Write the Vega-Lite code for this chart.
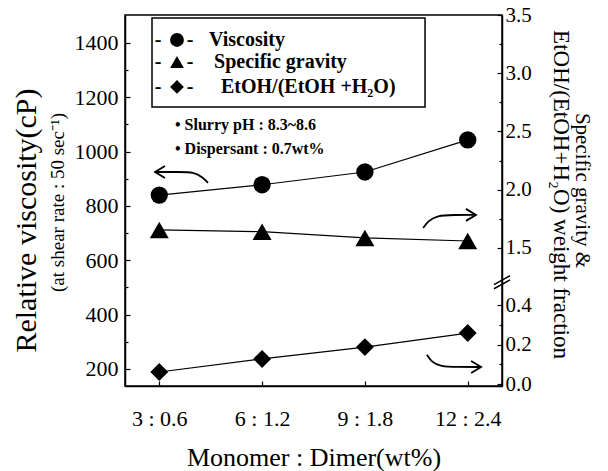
{
  "$schema": "https://vega.github.io/schema/vega-lite/v6.json",
  "width": 377,
  "height": 371,
  "autosize": "none",
  "padding": {"left": 125, "top": 15, "right": 106, "bottom": 85},
  "config": {
    "view": {"stroke": "black", "strokeWidth": 1.5},
    "font": "Liberation Serif",
    "axis": {
      "domainColor": "black", "tickColor": "black", "labelColor": "black", "titleColor": "black",
      "labelFont": "Liberation Serif", "titleFont": "Liberation Serif, Times New Roman, serif", "titleFontWeight": "normal",
      "grid": false, "domainWidth": 1.5, "tickWidth": 1.2
    },
    "style": {"guide-title": {"font": "Liberation Serif, Times New Roman, serif"}},
    "text": {"font": "Liberation Serif"}
  },
  "datasets": {
    "main": [
      {"x": 3, "visc": 840, "sg": 1.655, "etoh": 0.061},
      {"x": 6, "visc": 878, "sg": 1.64, "etoh": 0.127},
      {"x": 9, "visc": 925, "sg": 1.586, "etoh": 0.187},
      {"x": 12, "visc": 1043, "sg": 1.56, "etoh": 0.258}
    ],
    "legendBox": [{"x": 2.788, "x2": 10.754, "y": 1164, "y2": 1492}],
    "legendSymbols": [
      {"x": 3.517, "y": 1411, "series": "Viscosity"},
      {"x": 3.517, "y": 1330, "series": "Specific gravity"},
      {"x": 3.517, "y": 1238, "series": "EtOH"}
    ],
    "legendDashes": [
      {"x": 2.963, "y": 1411, "text": "-"}, {"x": 3.897, "y": 1411, "text": "-"},
      {"x": 2.963, "y": 1330, "text": "-"}, {"x": 3.897, "y": 1330, "text": "-"},
      {"x": 2.963, "y": 1238, "text": "-"}, {"x": 3.897, "y": 1238, "text": "-"}
    ],
    "legendLabels": [
      {"x": 4.45, "y": 1411, "text": "Viscosity"},
      {"x": 4.6, "y": 1330, "text": "Specific gravity"},
      {"x": 4.8, "y": 1238, "text": "EtOH/(EtOH +H₂O)"}
    ],
    "notes": [
      {"x": 3.459, "y": 1098, "text": "•  Slurry pH : 8.3~8.6"},
      {"x": 3.459, "y": 1010, "text": "•  Dispersant : 0.7wt%"}
    ],
    "arrows": [
      {"id": 1, "o": 1, "x": 4.42, "y": 885}, {"id": 1, "o": 2, "x": 4.28, "y": 905}, {"id": 1, "o": 3, "x": 4.0, "y": 925}, {"id": 1, "o": 4, "x": 3.6, "y": 925}, {"id": 1, "o": 5, "x": 2.9, "y": 925},
      {"id": 2, "o": 1, "x": 10.7, "y": 719}, {"id": 2, "o": 2, "x": 10.85, "y": 745}, {"id": 2, "o": 3, "x": 11.1, "y": 765}, {"id": 2, "o": 4, "x": 11.6, "y": 767}, {"id": 2, "o": 5, "x": 12.2, "y": 767},
      {"id": 3, "o": 1, "x": 10.81, "y": 252}, {"id": 3, "o": 2, "x": 10.95, "y": 225}, {"id": 3, "o": 3, "x": 11.2, "y": 209}, {"id": 3, "o": 4, "x": 11.7, "y": 207}, {"id": 3, "o": 5, "x": 12.35, "y": 207}
    ],
    "headsLeft": [
      {"x": 2.875, "y": 925}
    ],
    "headsRight": [
      {"x": 12.24, "y": 767},
      {"x": 12.39, "y": 207}
    ],
    "breaks": [
      {"id": "a", "x": 12.767, "y": 510}, {"id": "a", "x": 13.233, "y": 543},
      {"id": "b", "x": 12.767, "y": 495}, {"id": "b", "x": 13.233, "y": 528}
    ]
  },
  "encoding": {
    "x": {
      "field": "x", "type": "quantitative",
      "scale": {"domain": [2, 13], "nice": false, "zero": false},
      "axis": {
        "values": [3, 6, 9, 12],
        "labelExpr": "datum.value == 3 ? '3 : 0.6' : datum.value == 6 ? '6 : 1.2' : datum.value == 9 ? '9 : 1.8' : '12 : 2.4'",
        "labelFont": "Liberation Serif", "titleFont": "Liberation Serif, Times New Roman, serif",
        "labelFontSize": 22, "tickSize": -5, "labelPadding": 37, "labelBaseline": "middle",
        "title": "Monomer : Dimer(wt%)", "titleFontSize": 26, "titleY": 71, "titleBaseline": "middle"
      }
    }
  },
  "layer": [
    {
      "data": {"name": "main"},
      "mark": {"type": "line", "color": "black", "strokeWidth": 1.2},
      "encoding": {
        "y": {
          "field": "visc", "type": "quantitative",
          "scale": {"domain": [137, 1503], "nice": false, "zero": false},
          "axis": {
            "orient": "left", "values": [200, 400, 600, 800, 1000, 1200, 1400], "format": "d",
            "labelFont": "Liberation Serif", "titleFont": "Liberation Serif, Times New Roman, serif",
            "labelFontSize": 22, "tickSize": -5, "labelPadding": 12,
            "title": "(at shear rate : 50 sec⁻¹)", "titleFontSize": 19,
            "titleX": -68, "titleY": 187, "titleAngle": -90, "titleBaseline": "middle", "titleAlign": "center"
          }
        }
      }
    },
    {
      "data": {"name": "main"},
      "mark": {"type": "point", "shape": "circle", "filled": true, "color": "black", "opacity": 1, "size": 300},
      "encoding": {
        "y": {
          "field": "visc", "type": "quantitative",
          "scale": {"domain": [137, 1503], "nice": false, "zero": false},
          "axis": {
            "orient": "left", "values": [300, 500, 700, 900, 1100, 1300],
            "labels": false, "domain": false, "tickSize": -3,
            "titleFont": "Liberation Serif, Times New Roman, serif",
            "title": "Relative viscosity(cP)", "titleFontSize": 30,
            "titleX": -99, "titleY": 205, "titleAngle": -90, "titleBaseline": "middle", "titleAlign": "center"
          }
        }
      }
    },
    {
      "data": {"name": "main"},
      "mark": {"type": "line", "color": "black", "strokeWidth": 1.2},
      "encoding": {
        "y": {
          "field": "sg", "type": "quantitative",
          "scale": {"domain": [0.315, 3.5], "nice": false, "zero": false},
          "axis": {
            "orient": "right", "values": [1.5, 2.0, 2.5, 3.0, 3.5], "format": ".1f",
            "labelFont": "Liberation Serif", "titleFont": "Liberation Serif, Times New Roman, serif",
            "labelFontSize": 21, "tickSize": -5, "labelPadding": 8,
            "title": "Specific gravity &", "titleFontSize": 21,
            "titleX": 79, "titleY": 175, "titleAngle": 90, "titleBaseline": "middle", "titleAlign": "center"
          }
        }
      }
    },
    {
      "data": {"name": "main"},
      "mark": {"type": "point", "shape": "triangle-up", "filled": true, "color": "black", "opacity": 1, "size": 360},
      "encoding": {
        "y": {
          "field": "sg", "type": "quantitative",
          "scale": {"domain": [0.315, 3.5], "nice": false, "zero": false},
          "axis": {
            "orient": "right", "values": [1.75, 2.25, 2.75, 3.25],
            "labels": false, "domain": false, "tickSize": -3,
            "titleFont": "Liberation Serif, Times New Roman, serif",
            "title": "EtOH/(EtOH+H₂O) weight fraction", "titleFontSize": 23,
            "titleX": 58, "titleY": 179, "titleAngle": 90, "titleBaseline": "middle", "titleAlign": "center"
          }
        }
      }
    },
    {
      "data": {"name": "main"},
      "mark": {"type": "line", "color": "black", "strokeWidth": 1.2},
      "encoding": {
        "y": {
          "field": "etoh", "type": "quantitative",
          "scale": {"domain": [-0.01, 1.868], "nice": false, "zero": false},
          "axis": {
            "orient": "right", "values": [0, 0.2, 0.4], "format": ".1f",
            "labelFont": "Liberation Serif",
            "labelFontSize": 21, "tickSize": -5, "labelPadding": 8, "domain": false, "title": null
          }
        }
      }
    },
    {
      "data": {"name": "main"},
      "mark": {"type": "point", "shape": "diamond", "filled": true, "color": "black", "opacity": 1, "size": 320},
      "encoding": {
        "y": {
          "field": "etoh", "type": "quantitative",
          "scale": {"domain": [-0.01, 1.868], "nice": false, "zero": false},
          "axis": {
            "orient": "right", "values": [0.1, 0.3],
            "labels": false, "domain": false, "tickSize": -3, "title": null
          }
        }
      }
    },
    {
      "data": {"name": "legendBox"},
      "mark": {"type": "rect", "fill": "white", "stroke": "black", "strokeWidth": 1.5},
      "encoding": {
        "x2": {"field": "x2"},
        "y": {"field": "y", "type": "quantitative", "scale": {"domain": [137, 1503], "nice": false, "zero": false}, "axis": null},
        "y2": {"field": "y2"}
      }
    },
    {
      "data": {"name": "legendSymbols"},
      "mark": {"type": "point", "filled": true, "color": "black", "opacity": 1, "size": 190},
      "encoding": {
        "y": {"field": "y", "type": "quantitative", "scale": {"domain": [137, 1503], "nice": false, "zero": false}, "axis": null},
        "shape": {"field": "series", "type": "nominal", "scale": {"domain": ["Viscosity", "Specific gravity", "EtOH"], "range": ["circle", "triangle-up", "diamond"]}, "legend": null}
      }
    },
    {
      "data": {"name": "legendDashes"},
      "mark": {"type": "text", "align": "center", "baseline": "middle", "fontSize": 20, "fontWeight": "bold", "color": "black", "font": "Liberation Serif"},
      "encoding": {
        "y": {"field": "y", "type": "quantitative", "scale": {"domain": [137, 1503], "nice": false, "zero": false}, "axis": null},
        "text": {"field": "text"}
      }
    },
    {
      "data": {"name": "legendLabels"},
      "mark": {"type": "text", "align": "left", "baseline": "middle", "fontSize": 20, "fontWeight": "bold", "color": "black", "font": "Liberation Serif"},
      "encoding": {
        "y": {"field": "y", "type": "quantitative", "scale": {"domain": [137, 1503], "nice": false, "zero": false}, "axis": null},
        "text": {"field": "text"}
      }
    },
    {
      "data": {"name": "notes"},
      "mark": {"type": "text", "align": "left", "baseline": "middle", "fontSize": 16, "fontWeight": "bold", "color": "black", "font": "Liberation Serif"},
      "encoding": {
        "y": {"field": "y", "type": "quantitative", "scale": {"domain": [137, 1503], "nice": false, "zero": false}, "axis": null},
        "text": {"field": "text"}
      }
    },
    {
      "data": {"name": "arrows"},
      "mark": {"type": "line", "color": "black", "strokeWidth": 1.8, "interpolate": "basis"},
      "encoding": {
        "y": {"field": "y", "type": "quantitative", "scale": {"domain": [137, 1503], "nice": false, "zero": false}, "axis": null},
        "detail": {"field": "id", "type": "nominal"},
        "order": {"field": "o", "type": "quantitative"}
      }
    },
    {
      "data": {"name": "headsLeft"},
      "mark": {"type": "point", "shape": "M1,-0.6L0,0L1,0.6", "filled": false, "color": "black", "opacity": 1, "strokeWidth": 1.8, "size": 400},
      "encoding": {
        "y": {"field": "y", "type": "quantitative", "scale": {"domain": [137, 1503], "nice": false, "zero": false}, "axis": null}
      }
    },
    {
      "data": {"name": "headsRight"},
      "mark": {"type": "point", "shape": "M-1,-0.6L0,0L-1,0.6", "filled": false, "color": "black", "opacity": 1, "strokeWidth": 1.8, "size": 400},
      "encoding": {
        "y": {"field": "y", "type": "quantitative", "scale": {"domain": [137, 1503], "nice": false, "zero": false}, "axis": null}
      }
    },
    {
      "data": {"name": "breaks"},
      "mark": {"type": "line", "color": "black", "strokeWidth": 1.5},
      "encoding": {
        "y": {"field": "y", "type": "quantitative", "scale": {"domain": [137, 1503], "nice": false, "zero": false}, "axis": null},
        "detail": {"field": "id", "type": "nominal"}
      }
    }
  ],
  "resolve": {"scale": {"y": "independent"}}
}
